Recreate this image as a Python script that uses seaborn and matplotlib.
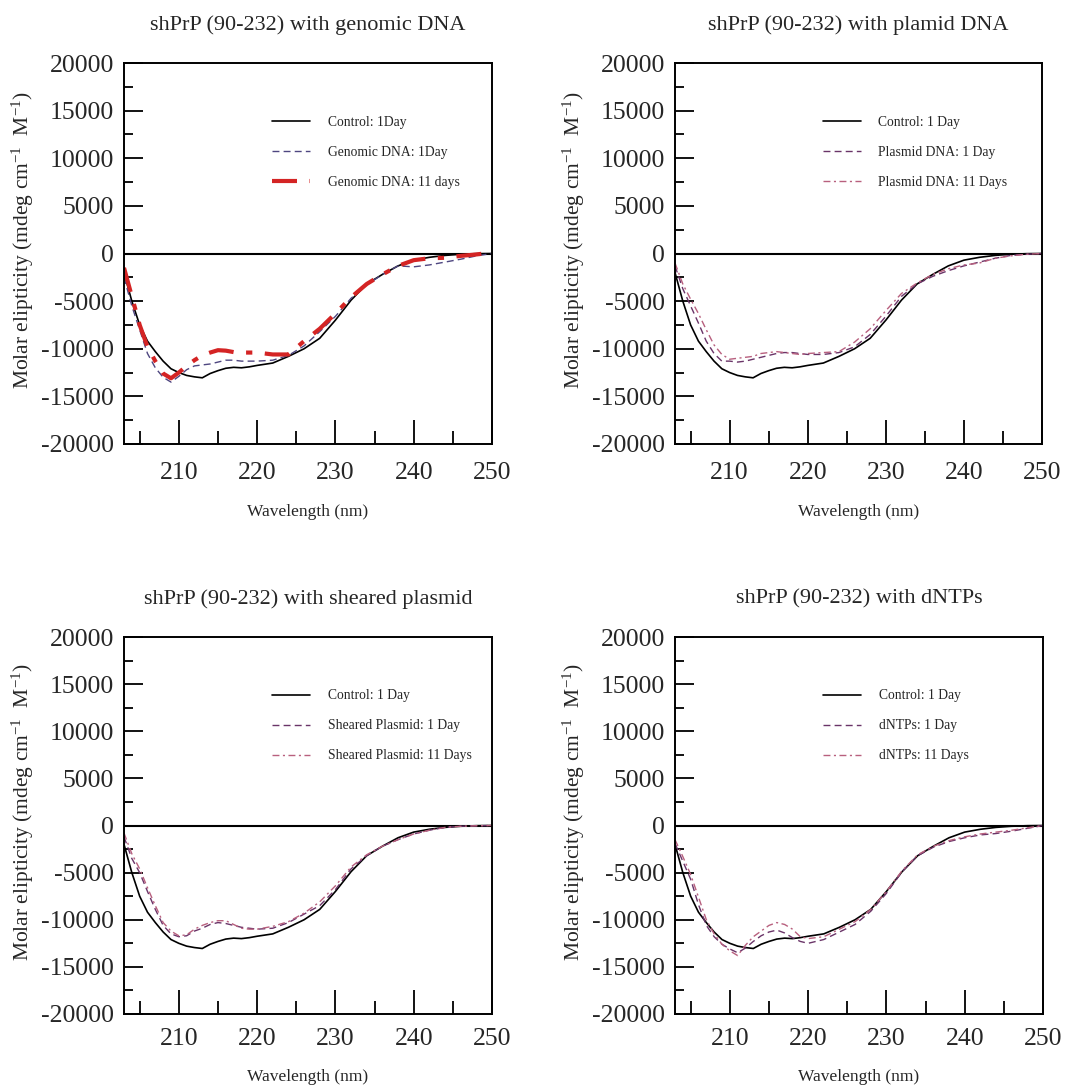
import numpy as np
import pandas as pd
import matplotlib
matplotlib.use("Agg")
import matplotlib.pyplot as plt
from matplotlib.ticker import MultipleLocator
import seaborn as sns

# ---------------- data ----------------
wavelength = [203, 204, 205, 206, 207, 208, 209, 210, 211, 212, 213, 214, 215, 216, 217,
              218, 219, 220, 222, 224, 226, 228, 230, 232, 234, 236, 238, 240, 242, 244,
              246, 248, 250]

control_1day = [-2000, -5000, -7500, -9200, -10300, -11300, -12100, -12500, -12800, -12950,
                -13050, -12600, -12300, -12050, -11950, -12000, -11900, -11750, -11500,
                -10800, -10000, -8900, -7000, -4900, -3200, -2200, -1300, -700, -400, -200,
                -80, -20, 0]

genomic_1day = [-2500, -5500, -8000, -10500, -12000, -13000, -13500, -12900, -12200, -11800,
                -11700, -11600, -11400, -11200, -11200, -11300, -11300, -11300, -11200,
                -10700, -9700, -8200, -6600, -4700, -3300, -2200, -1300, -1400, -1200, -900,
                -600, -250, 0]
genomic_11days = [-1500, -4500, -7500, -9800, -11300, -12600, -13100, -12500, -11800, -11200,
                  -10700, -10400, -10150, -10200, -10350, -10400, -10400, -10400, -10600,
                  -10600, -9200, -7900, -6300, -4600, -3200, -2200, -1300, -700, -500, -450,
                  -250, -100, 100]

plasmid_1day = [-1300, -3700, -5500, -7300, -9200, -10500, -11300, -11300, -11400, -11300,
                -11100, -10900, -10700, -10500, -10400, -10400, -10500, -10600, -10600,
                -10400, -9800, -8500, -6600, -4500, -3200, -2400, -1800, -1300, -900, -500,
                -200, -80, 0]
plasmid_11days = [-1000, -3200, -4800, -6300, -8000, -9600, -10600, -11100, -11000, -10900,
                  -10800, -10500, -10400, -10300, -10400, -10500, -10600, -10500, -10400,
                  -10300, -9300, -7900, -6000, -4200, -3100, -2200, -1600, -1200, -1000, -500,
                  -250, -80, 0]

sheared_1day = [-1200, -3500, -5000, -7000, -8900, -10600, -11500, -11800, -11700, -11200,
                -10900, -10500, -10300, -10400, -10600, -10800, -10900, -11000, -10900,
                -10300, -9400, -8500, -6800, -4600, -3200, -2200, -1500, -900, -500, -200,
                -80, -30, 0]
sheared_11days = [-800, -3000, -4600, -6600, -8500, -10300, -11200, -11700, -11600, -11000,
                  -10600, -10300, -10100, -10100, -10500, -10900, -11000, -11000, -10700,
                  -10200, -9300, -8100, -6400, -4400, -3100, -2200, -1500, -900, -500, -200,
                  -80, -30, 0]

dntps_1day = [-1900, -3800, -5700, -8400, -10600, -11800, -12600, -13100, -13500, -13000,
              -12300, -11700, -11300, -11100, -11400, -11900, -12300, -12500, -12100,
              -11300, -10500, -9100, -7200, -4900, -3200, -2300, -1700, -1300, -1000, -850,
              -600, -300, 0]
dntps_11days = [-1500, -3300, -5200, -7600, -10000, -11500, -12600, -13300, -13800, -12700,
                -11800, -11200, -10600, -10300, -10500, -11000, -11800, -12000, -11800,
                -11000, -10200, -8900, -7000, -4800, -3100, -2200, -1600, -1200, -900, -700,
                -500, -250, 0]

titles = ["shPrP (90-232) with genomic DNA", "shPrP (90-232) with plamid DNA",
          "shPrP (90-232) with sheared plasmid", "shPrP (90-232) with dNTPs"]
labels = [
    ["Control: 1Day", "Genomic DNA: 1Day", "Genomic DNA: 11 days"],
    ["Control: 1 Day", "Plasmid DNA: 1 Day", "Plasmid DNA: 11 Days"],
    ["Control: 1 Day", "Sheared Plasmid: 1 Day", "Sheared Plasmid: 11 Days"],
    ["Control: 1 Day", "dNTPs: 1 Day", "dNTPs: 11 Days"],
]
series = [
    (control_1day, genomic_1day, genomic_11days),
    (control_1day, plasmid_1day, plasmid_11days),
    (control_1day, sheared_1day, sheared_11days),
    (control_1day, dntps_1day, dntps_11days),
]
y_ticks = [-20000, -15000, -10000, -5000, 0, 5000, 10000, 15000, 20000]
x_ticks = [210, 220, 230, 240, 250]

# ---------------- style ----------------
sns.set_style("white")
plt.rcParams['font.family'] = ['Liberation Serif', 'DejaVu Serif']
plt.rcParams['mathtext.fontset'] = 'custom'
plt.rcParams['mathtext.rm'] = 'Liberation Serif'
plt.rcParams['mathtext.it'] = 'Liberation Serif:italic'
plt.rcParams['mathtext.bf'] = 'Liberation Serif:bold'

fig = plt.figure(figsize=(10.66, 10.88), dpi=100)

W, H = 1066, 1088
boxes = [(124, 63, 492, 444), (675, 63, 1042, 444),
         (124, 637, 492, 1014), (675, 637, 1043, 1014)]
xpads = [13, 13, 10, 10]

thin = [dict(color="black", lw=1.2, dash=None),
        dict(color="#6a3468", lw=1.0, dash=[5, 3]),
        dict(color="#b8607e", lw=1.0, dash=[5, 2.5, 1.5, 2.5])]
styles = [
    [dict(color="black", lw=1.2, dash=None),
     dict(color="#4e4680", lw=1.0, dash=[5, 3]),
     dict(color="#d42424", lw=3.0, dash=[6, 3, 1.5, 3])],
    thin, thin, thin,
]

for i, (x0, y0, x1, y1) in enumerate(boxes):
    ax = fig.add_axes([x0 / W, 1 - y1 / H, (x1 - x0) / W, (y1 - y0) / H])
    ax.axhline(0, color="black", lw=1.5, zorder=1)
    for vals, lab, st in zip(series[i], labels[i], styles[i]):
        sns.lineplot(x=wavelength, y=vals, ax=ax, color=st["color"], lw=st["lw"],
                     label=lab, sort=False, estimator=None)
        if st["dash"] is not None:
            ax.lines[-1].set_dashes(st["dash"])
    ax.set_xlim(203, 250)
    ax.set_ylim(-20000, 20000)
    ax.set_xticks(x_ticks)
    ax.set_yticks(y_ticks)
    ax.set_yticklabels([str(v) for v in y_ticks])
    ax.xaxis.set_minor_locator(MultipleLocator(5))
    ax.yaxis.set_minor_locator(MultipleLocator(2500))
    ax.tick_params(axis="x", which="major", direction="in", length=17.5, width=1.3,
                   labelsize=18.5, pad=xpads[i], top=False, bottom=True, color="black")
    ax.tick_params(axis="x", which="minor", direction="in", length=9.5, width=1.3,
                   top=False, bottom=True, color="black")
    ax.tick_params(axis="y", which="major", direction="in", length=13.5, width=1.3,
                   labelsize=18.5, pad=7, left=True, right=False, color="black")
    ax.tick_params(axis="y", which="minor", direction="in", length=6.6, width=1.3,
                   left=True, right=False, color="black")
    for sp in ax.spines.values():
        sp.set_linewidth(1.4)
        sp.set_color("black")
    ax.set_title(titles[i], fontsize=16, pad=24)
    ax.set_xlabel("Wavelength (nm)", fontsize=12.5, labelpad=14)
    ax.set_ylabel(r"Molar elipticity (mdeg cm$^{-1}$  M$^{-1}$)", fontsize=15.5)
    ax.yaxis.set_label_coords(-88 / (x1 - x0), 0.535)
    ax.legend(loc="upper left", bbox_to_anchor=(0.402, 0.861), frameon=False,
              fontsize=9.8, handlelength=2.8, handletextpad=1.3,
              labelspacing=1.25, borderpad=0, borderaxespad=0)

fig.savefig("out.png", dpi=100)
